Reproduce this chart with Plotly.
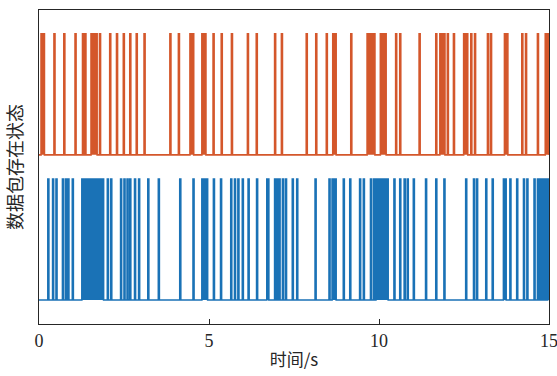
import plotly.graph_objects as go

# Packet-present intervals (seconds): state = 1 between on and off
orange_on = [0.06, 0.44, 0.73, 1.06, 1.28, 1.35, 1.53, 1.78, 2.08, 2.28, 2.48, 2.67, 2.86, 3.09,
             3.85, 4.10, 4.44, 4.79, 5.12, 5.36, 5.66, 6.13, 6.39, 6.93, 7.13, 7.86, 8.14, 8.45,
             8.64, 9.17, 9.65, 10.04, 10.49, 10.61, 11.18, 11.67, 11.79, 12.01, 12.19, 12.49,
             12.70, 12.81, 13.19, 13.28, 13.69, 14.20, 14.31, 14.66, 14.89]
orange_off = [0.16, 0.47, 0.76, 1.09, 1.31, 1.38, 1.71, 1.81, 2.11, 2.31, 2.51, 2.70, 2.89, 3.12,
              3.88, 4.13, 4.55, 4.91, 5.15, 5.39, 5.69, 6.16, 6.42, 6.96, 7.16, 7.89, 8.17, 8.48,
              8.74, 9.20, 9.88, 10.21, 10.52, 10.64, 11.21, 11.70, 11.94, 12.04, 12.22, 12.61,
              12.73, 12.84, 13.22, 13.31, 13.79, 14.23, 14.34, 14.69, 15.00]

blue_on = [0.26, 0.40, 0.50, 0.69, 0.78, 0.85, 0.98, 1.26, 2.01, 2.11, 2.40, 2.50, 2.59, 2.67,
           2.81, 2.93, 3.20, 3.51, 4.14, 4.53, 4.79, 5.13, 5.34, 5.64, 5.75, 5.85, 5.98, 6.15,
           6.40, 6.70, 6.93, 7.00, 7.06, 7.16, 7.25, 7.45, 7.58, 8.12, 8.53, 8.62, 8.95, 9.14,
           9.43, 9.54, 9.75, 9.84, 9.91, 10.44, 10.61, 10.74, 10.83, 11.01, 11.37, 11.67, 11.91,
           12.55, 12.78, 12.87, 13.14, 13.33, 13.66, 13.85, 14.05, 14.25, 14.35, 14.56, 14.66,
           14.72, 14.78, 14.84, 14.90, 14.96]
blue_off = [0.29, 0.43, 0.53, 0.72, 0.81, 0.88, 1.01, 1.90, 2.04, 2.14, 2.43, 2.53, 2.62, 2.70,
            2.84, 2.96, 3.23, 3.54, 4.17, 4.56, 4.96, 5.16, 5.37, 5.67, 5.78, 5.88, 6.01, 6.18,
            6.43, 6.76, 6.96, 7.03, 7.09, 7.19, 7.28, 7.48, 7.61, 8.15, 8.56, 8.74, 8.98, 9.17,
            9.46, 9.57, 9.78, 9.87, 10.27, 10.47, 10.64, 10.77, 10.86, 11.04, 11.40, 11.70, 11.94,
            12.58, 12.81, 12.90, 13.17, 13.36, 13.74, 13.88, 14.08, 14.28, 14.38, 14.59, 14.69,
            14.75, 14.81, 14.87, 14.93, 15.00]

orange_offset = 1.2
blue_offset = 0.0
x_ticks = [0, 5, 10, 15]
x_title = "时间/s"
y_title = "数据包存在状态"


def step_path(ons, offs, base):
    xs, ys = [0.0], [base]
    for a, b in zip(ons, offs):
        xs += [a, a, b, b]
        ys += [base, base + 1, base + 1, base]
    xs.append(15.0)
    ys.append(base)
    return xs, ys


fig = go.Figure()
for ons, offs, base, color in [(orange_on, orange_off, orange_offset, "#D4572B"),
                               (blue_on, blue_off, blue_offset, "#1A72B6")]:
    xs, ys = step_path(ons, offs, base)
    fig.add_trace(go.Scatter(x=xs, y=ys, mode="lines", fill="toself", fillcolor=color,
                             line=dict(color=color, width=1.6), hoverinfo="skip",
                             showlegend=False))

fig.update_layout(
    width=557, height=376,
    margin=dict(l=39, r=8, t=10, b=52),
    paper_bgcolor="white", plot_bgcolor="white",
    showlegend=False,
)
fig.update_xaxes(
    range=[0, 15], tickvals=x_ticks, ticktext=[str(v) for v in x_ticks],
    ticks="inside", ticklen=5, tickwidth=1, tickcolor="#262626",
    ticklabeloverflow="allow", automargin=False,
    showline=True, linecolor="#262626", linewidth=1, mirror=True,
    showgrid=False, zeroline=False,
    tickfont=dict(family="Liberation Serif", size=18, color="#262626"),
    title=dict(text=x_title, standoff=4,
               font=dict(family="Noto Sans CJK SC", size=17, color="#262626")),
)
fig.update_yaxes(
    range=[-0.198, 2.397], showticklabels=False, ticks="", automargin=False,
    showline=True, linecolor="#262626", linewidth=1, mirror=True,
    showgrid=False, zeroline=False,
    title=dict(text=y_title, standoff=10,
               font=dict(family="Noto Sans CJK SC", size=18, color="#262626")),
)

fig.write_html("out.html")
